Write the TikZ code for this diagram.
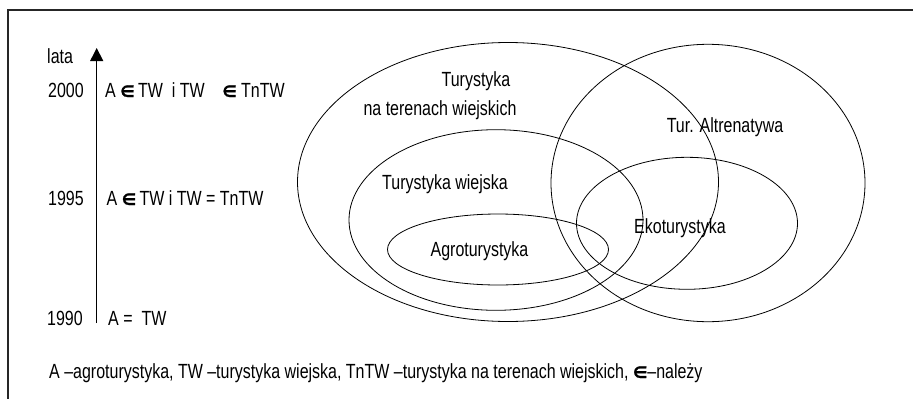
\documentclass[tikz,border=0pt]{standalone}
\usepackage{fontspec}
\setmainfont[FakeStretch=0.78]{Liberation Sans}
\newfontfamily\symfont[FakeBold=1.5]{DejaVu Sans Bold}
\usetikzlibrary{arrows.meta}
\newcommand{\elm}{{\symfont\fontsize{16}{20}\selectfont ∈}}
\begin{document}
\begin{tikzpicture}[x=1pt,y=-1pt,
  txt/.style={inner sep=0pt,font=\fontsize{20.5}{24}\selectfont},
  venn/.style={draw=black,line width=0.8pt},
  frameline/.style={draw=black!85,line width=1.3pt}]
\useasboundingbox (0,0) rectangle (913,399);
% frame
\coordinate (f1) at (913,10);
\coordinate (f2) at (8,10);
\coordinate (f3) at (8,399);
\draw[frameline] (f1) -- (f2) -- (f3);
% time axis
\coordinate (abot) at (96.7,323);
\coordinate (atop) at (96.7,48);
\draw[line width=0.9pt,-{Triangle[length=13pt,width=13pt]}] (abot) -- (atop);
\node[txt,anchor=base west] (lata) at (47,63) {lata};
\node[txt,anchor=base west] (y2000) at (48,97) {2000};
\node[txt,anchor=base west] (y1995) at (48,205) {1995};
\node[txt,anchor=base west] (y1990) at (47,325) {1990};
\node[txt,anchor=base west] (r2000) at (105,97) {A \elm\,TW\ \ i TW\ \ \ \ \elm\ TnTW};
\node[txt,anchor=base west] (r1995) at (106.5,205) {A \elm\,TW i TW = TnTW};
\node[txt,anchor=base west] (r1990) at (108,325) {A =\ \ TW};
% Venn ellipses
\coordinate (cT) at (508,182);
\coordinate (cA) at (708,183);
\coordinate (cW) at (496,220);
\coordinate (cG) at (498,249.5);
\coordinate (cE) at (687,223.3);
\draw[venn] (cT) ellipse [x radius=210.5,y radius=139.5];
\draw[venn] (cA) ellipse [x radius=157,y radius=138.7];
\draw[venn] (cW) ellipse [x radius=147,y radius=90.3];
\draw[venn] (cG) ellipse [x radius=110.5,y radius=35.5];
\draw[venn] (cE) ellipse [x radius=110.5,y radius=66];
% labels
\node[txt,anchor=base] (lT1) at (476,86) {Turystyka};
\node[txt,anchor=base] (lT2) at (440,115) {na terenach wiejskich};
\node[txt,anchor=base] (lA) at (725,132) {Tur. Altrenatywa};
\node[txt,anchor=base] (lW) at (445,189) {Turystyka wiejska};
\node[txt,anchor=base] (lG) at (479.5,256) {Agroturystyka};
\node[txt,anchor=base] (lE) at (680,233) {Ekoturystyka};
% legend
\node[txt,anchor=base west] (leg) at (49,378) {A –agroturystyka, TW –turystyka wiejska, TnTW –turystyka na terenach wiejskich, \elm–należy};
\end{tikzpicture}
\end{document}
